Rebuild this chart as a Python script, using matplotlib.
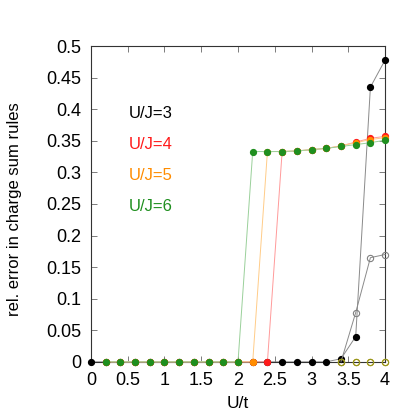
import numpy as np
import matplotlib
matplotlib.use("Agg")
from matplotlib import pyplot as plt

plt.rcParams['font.family'] = ['Liberation Sans', 'DejaVu Sans']

u = [0.0, 0.2, 0.4, 0.6, 0.8, 1.0, 1.2, 1.4, 1.6, 1.8, 2.0,
     2.2, 2.4, 2.6, 2.8, 3.0, 3.2, 3.4, 3.6, 3.8, 4.0]

# filled: rel. error, one list per U/J
err_j3 = [0, 0, 0, 0, 0, 0, 0, 0, 0, 0, 0,
          0, 0, 0, 0, 0, 0, 0.005, 0.04, 0.435, 0.478]
err_j4 = [0, 0, 0, 0, 0, 0, 0, 0, 0, 0, 0,
          0, 0, 0.333, 0.334, 0.336, 0.338, 0.342, 0.348, 0.354, 0.357]
err_j5 = [0, 0, 0, 0, 0, 0, 0, 0, 0, 0, 0,
          0, 0.333, 0.333, 0.334, 0.336, 0.338, 0.342, 0.347, 0.352, 0.355]
err_j6 = [0, 0, 0, 0, 0, 0, 0, 0, 0, 0, 0,
          0.333, 0.333, 0.333, 0.334, 0.336, 0.338, 0.341, 0.344, 0.347, 0.351]

# open circles (only the large-U end)
u_open = [3.4, 3.6, 3.8, 4.0]
open_j3 = [0, 0.078, 0.165, 0.17]
open_j5 = [0, 0, 0, 0]
open_j6 = [0, 0, 0, 0]

labels = ["U/J=3", "U/J=4", "U/J=5", "U/J=6"]
colors = ["black", "#ff1a1a", "#ff8c00", "#1f8f1f"]
line_colors = ["#8a8a8a", "#ff9a9a", "#ffcc88", "#9ad09a"]

fig = plt.figure(figsize=(4.15, 4.15), dpi=100)
ax = fig.add_axes([0.219, 0.128, 0.709, 0.761])

series = [err_j3, err_j4, err_j5, err_j6]
for i, ys in enumerate(series):
    xs = u if i == 0 else u[1:]
    ys = ys if i == 0 else ys[1:]
    ax.plot(xs, ys, color=line_colors[i], lw=0.7, zorder=2 + i, clip_on=False)
    ax.plot(xs, ys, 'o', color=colors[i], ms=4.2, mec=colors[i], zorder=6 + i, clip_on=False)

ax.plot(u_open, open_j3, '-o', color="#8a8a8a", lw=0.7, ms=4.5, mfc="none", mec="#808080",
        mew=0.8, zorder=10, clip_on=False)
ax.plot(u_open, open_j5, 'o', ms=4.5, mfc="none", mec="#ff8c00", mew=0.8, zorder=11, clip_on=False)
ax.plot(u_open, open_j6, 'o', ms=4.5, mfc="none", mec="#8a9a20", mew=0.8, zorder=12, clip_on=False)

for i, lab in enumerate(labels):
    ax.text(0.13, 0.785 - i * 0.098, lab, color=colors[i], fontsize=12,
            transform=ax.transAxes, va="center", ha="left")

ax.set_xlim(0, 4)
ax.set_ylim(0, 0.5)
ax.set_xticks(np.arange(0, 4.01, 0.5))
ax.set_xticklabels(["0", "0.5", "1", "1.5", "2", "2.5", "3", "3.5", "4"])
ax.set_yticks(np.arange(0, 0.501, 0.05))
ax.set_yticklabels(["0", "0.05", "0.1", "0.15", "0.2", "0.25", "0.3", "0.35", "0.4", "0.45", "0.5"])
ax.tick_params(direction="in", top=True, right=True, labelsize=13, length=4, width=0.6,
               color="#666666", pad=7)
for s in ax.spines.values():
    s.set_linewidth(0.8)
    s.set_color("#333333")
ax.set_xlabel("U/t", fontsize=12.5, labelpad=5)
ax.set_ylabel("rel. error in charge sum rules", fontsize=12)
ax.yaxis.set_label_coords(-0.235, 0.484)

fig.savefig("out.png", dpi=100)
